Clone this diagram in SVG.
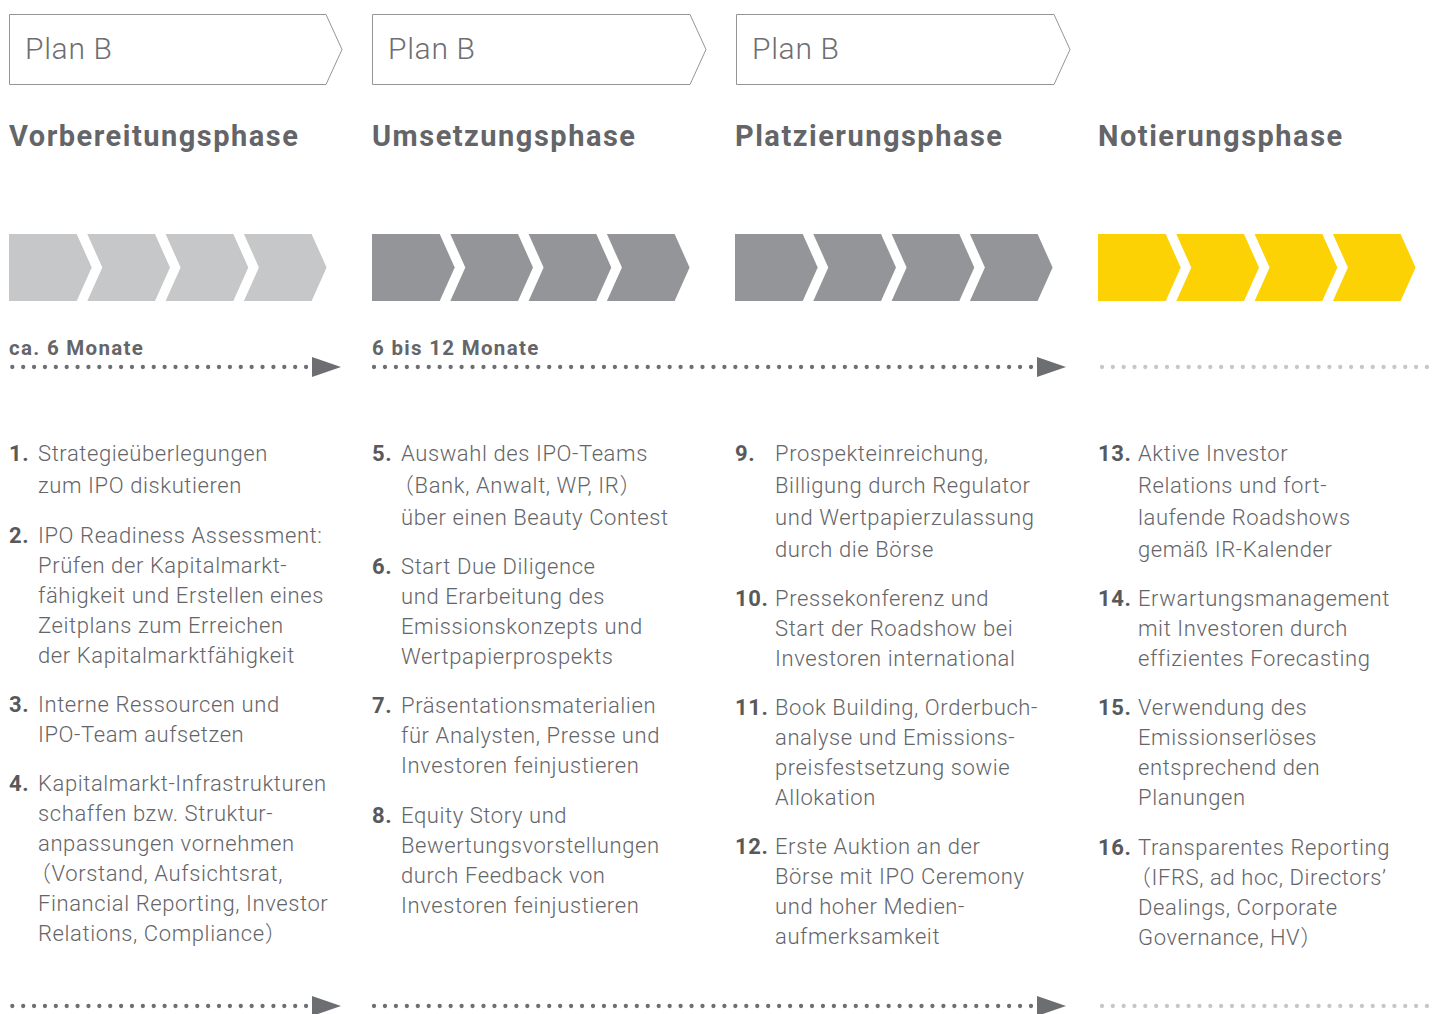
<svg xmlns="http://www.w3.org/2000/svg" width="1438" height="1014" viewBox="0 0 1438 1014">
<defs>
<style>
.plan{fill:#ffffff;stroke:#939598;stroke-width:1}
.plant{font-family:Roboto,"Liberation Sans",sans-serif;font-weight:300;font-size:30px;letter-spacing:0.7px;fill:#6d6e71}
.head{font-family:Roboto,"Liberation Sans",sans-serif;font-weight:700;font-size:29px;letter-spacing:1.5px;fill:#646569}
.dur{font-family:Roboto,"Liberation Sans",sans-serif;font-weight:700;font-size:20.5px;letter-spacing:1.3px;fill:#646569}
.t{font-family:Roboto,"Liberation Sans","Noto Sans CJK SC",sans-serif;font-weight:300;font-size:22px;letter-spacing:0.6px;fill:#646569}
.n{font-weight:700;fill:#58595b}
.c1{fill:#c6c7c8}
.c2{fill:#939598}
.c3{fill:#fcd205}
.dots{stroke:#6d6e71;stroke-width:4.3;stroke-linecap:round;fill:none}
.ldots{stroke:#c6c7c8;stroke-width:4.3;stroke-linecap:round;fill:none}
.arr{fill:#6d6e71}
</style>
<g id="chev">
<path d="M0,234 H67.7 L82.7,267.5 L67.7,301 H0 Z"/>
<path d="M78.3,234 H146 L161,267.5 L146,301 H78.3 L93.3,267.5 Z"/>
<path d="M156.6,234 H224.3 L239.3,267.5 L224.3,301 H156.6 L171.6,267.5 Z"/>
<path d="M234.9,234 H302.6 L317.6,267.5 L302.6,301 H234.9 L249.9,267.5 Z"/>
</g>
</defs>

<g id="plan1"><path class="plan" d="M9.5,14.5 H326 L342,49.5 L326,84.5 H9.5 Z"/><text class="plant" x="25" y="59">Plan B</text></g>
<g id="plan2"><path class="plan" d="M372.5,14.5 H690 L706,49.5 L690,84.5 H372.5 Z"/><text class="plant" x="388" y="59">Plan B</text></g>
<g id="plan3"><path class="plan" d="M736.5,14.5 H1054 L1070,49.5 L1054,84.5 H736.5 Z"/><text class="plant" x="752" y="59">Plan B</text></g>

<g id="heads">
<text class="head" x="9" y="146">Vorbereitungsphase</text>
<text class="head" x="372" y="146">Umsetzungsphase</text>
<text class="head" x="735" y="146">Platzierungsphase</text>
<text class="head" x="1098" y="146">Notierungsphase</text>
</g>

<g id="phase-bars">
<use href="#chev" x="9" class="c1"/>
<use href="#chev" x="372" class="c2"/>
<use href="#chev" x="735" class="c2"/>
<use href="#chev" x="1098" class="c3"/>
</g>

<g id="connectors">
<text class="dur" x="9" y="355">ca. 6 Monate</text>
<text class="dur" x="372" y="355">6 bis 12 Monate</text>
<line class="dots" x1="12.3" y1="367" x2="306.8" y2="367" stroke-dasharray="0 10.88"/>
<polygon class="arr" points="312,357 341,367 312,377"/>
<line class="dots" x1="374" y1="367" x2="1031.8" y2="367" stroke-dasharray="0 10.95"/>
<polygon class="arr" points="1037,357 1066,367 1037,377"/>
<line class="ldots" x1="1102" y1="367" x2="1427.8" y2="367" stroke-dasharray="0 10.83"/>

<line class="dots" x1="12.3" y1="1006" x2="306.8" y2="1006" stroke-dasharray="0 10.88"/>
<polygon class="arr" points="312,996 341,1006 312,1016"/>
<line class="dots" x1="374" y1="1006" x2="1031.8" y2="1006" stroke-dasharray="0 10.95"/>
<polygon class="arr" points="1037,996 1066,1006 1037,1016"/>
<line class="ldots" x1="1102" y1="1006" x2="1427.8" y2="1006" stroke-dasharray="0 10.83"/>
</g>

<g id="col1" class="t">
<text x="9" y="461"><tspan class="n">1.</tspan></text>
<text x="38" y="461">Strategieüberlegungen</text>
<text x="38" y="493">zum IPO diskutieren</text>
<text x="9" y="543"><tspan class="n">2.</tspan></text>
<text x="38" y="543">IPO Readiness Assessment:</text>
<text x="38" y="573">Prüfen der Kapitalmarkt-</text>
<text x="38" y="603">fähigkeit und Erstellen eines</text>
<text x="38" y="633">Zeitplans zum Erreichen</text>
<text x="38" y="663">der Kapitalmarktfähigkeit</text>
<text x="9" y="712"><tspan class="n">3.</tspan></text>
<text x="38" y="712">Interne Ressourcen und</text>
<text x="38" y="742">IPO-Team aufsetzen</text>
<text x="9" y="791"><tspan class="n">4.</tspan></text>
<text x="38" y="791">Kapitalmarkt-Infrastrukturen</text>
<text x="38" y="821">schaffen bzw. Struktur-</text>
<text x="38" y="851">anpassungen vornehmen</text>
<text x="38" y="881" dx="-9">（Vorstand, Aufsichtsrat,</text>
<text x="38" y="911">Financial Reporting, Investor</text>
<text x="38" y="941">Relations, Compliance）</text>
</g>

<g id="col2" class="t">
<text x="372" y="461"><tspan class="n">5.</tspan></text>
<text x="401" y="461">Auswahl des IPO-Teams</text>
<text x="401" y="493" dx="-9">（Bank, Anwalt, WP, IR）</text>
<text x="401" y="525">über einen Beauty Contest</text>
<text x="372" y="574"><tspan class="n">6.</tspan></text>
<text x="401" y="574">Start Due Diligence</text>
<text x="401" y="604">und Erarbeitung des</text>
<text x="401" y="634">Emissionskonzepts und</text>
<text x="401" y="664">Wertpapierprospekts</text>
<text x="372" y="713"><tspan class="n">7.</tspan></text>
<text x="401" y="713">Präsentationsmaterialien</text>
<text x="401" y="743">für Analysten, Presse und</text>
<text x="401" y="773">Investoren feinjustieren</text>
<text x="372" y="823"><tspan class="n">8.</tspan></text>
<text x="401" y="823">Equity Story und</text>
<text x="401" y="853">Bewertungsvorstellungen</text>
<text x="401" y="883">durch Feedback von</text>
<text x="401" y="913">Investoren feinjustieren</text>
</g>

<g id="col3" class="t">
<text x="735" y="461"><tspan class="n">9.</tspan></text>
<text x="775" y="461">Prospekteinreichung,</text>
<text x="775" y="493">Billigung durch Regulator</text>
<text x="775" y="525">und Wertpapierzulassung</text>
<text x="775" y="557">durch die Börse</text>
<text x="735" y="606"><tspan class="n">10.</tspan></text>
<text x="775" y="606">Pressekonferenz und</text>
<text x="775" y="636">Start der Roadshow bei</text>
<text x="775" y="666">Investoren international</text>
<text x="735" y="715"><tspan class="n">11.</tspan></text>
<text x="775" y="715">Book Building, Orderbuch-</text>
<text x="775" y="745">analyse und Emissions-</text>
<text x="775" y="775">preisfestsetzung sowie</text>
<text x="775" y="805">Allokation</text>
<text x="735" y="854"><tspan class="n">12.</tspan></text>
<text x="775" y="854">Erste Auktion an der</text>
<text x="775" y="884">Börse mit IPO Ceremony</text>
<text x="775" y="914">und hoher Medien-</text>
<text x="775" y="944">aufmerksamkeit</text>
</g>

<g id="col4" class="t">
<text x="1098" y="461"><tspan class="n">13.</tspan></text>
<text x="1138" y="461">Aktive Investor</text>
<text x="1138" y="493">Relations und fort-</text>
<text x="1138" y="525">laufende Roadshows</text>
<text x="1138" y="557">gemäß IR-Kalender</text>
<text x="1098" y="606"><tspan class="n">14.</tspan></text>
<text x="1138" y="606">Erwartungsmanagement</text>
<text x="1138" y="636">mit Investoren durch</text>
<text x="1138" y="666">effizientes Forecasting</text>
<text x="1098" y="715"><tspan class="n">15.</tspan></text>
<text x="1138" y="715">Verwendung des</text>
<text x="1138" y="745">Emissionserlöses</text>
<text x="1138" y="775">entsprechend den</text>
<text x="1138" y="805">Planungen</text>
<text x="1098" y="855"><tspan class="n">16.</tspan></text>
<text x="1138" y="855">Transparentes Reporting</text>
<text x="1138" y="885" dx="-9">（IFRS, ad hoc, Directors’</text>
<text x="1138" y="915">Dealings, Corporate</text>
<text x="1138" y="945">Governance, HV）</text>
</g>
</svg>
